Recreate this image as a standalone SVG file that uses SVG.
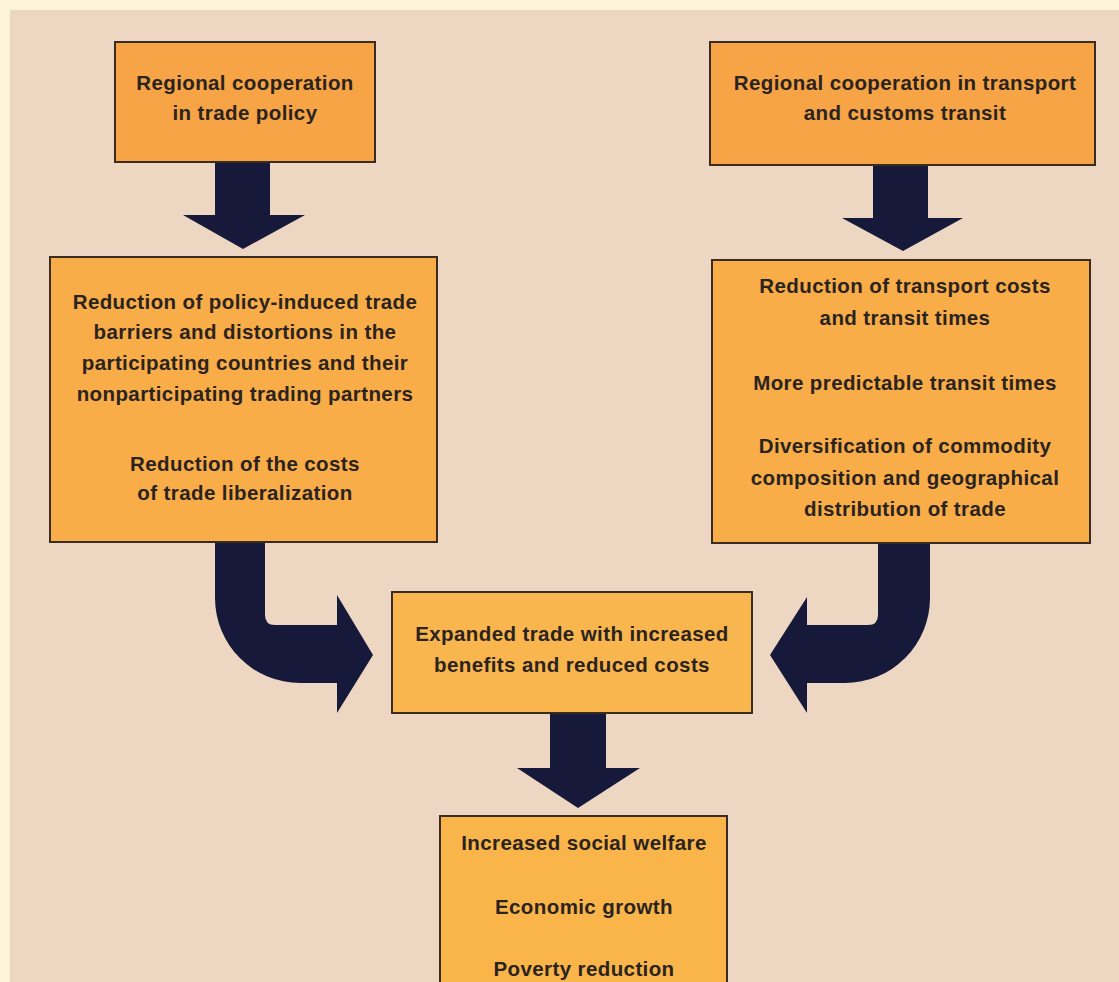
<svg xmlns="http://www.w3.org/2000/svg" width="1119" height="982" viewBox="0 0 1119 982">
<style>
.box{stroke:#3b2c22;stroke-width:2}
.t{font-family:"Liberation Sans",Arial,sans-serif;font-weight:bold;font-size:20.5px;letter-spacing:0.4px;fill:#2a2320;text-anchor:middle}
.arr{fill:#16193a}
</style>
<rect x="0" y="0" width="1119" height="982" fill="#fbf3da"/>
<rect x="10" y="10" width="1109" height="972" fill="#eed7c2"/>
<g id="connectors">
<path class="arr" d="M215,163 L270,163 L270,215 L305,215 L243,249 L183,215 L215,215 Z"/>
<path class="arr" d="M873,166 L928,166 L928,218 L963,218 L903,251 L842,218 L873,218 Z"/>
<path class="arr" d="M215,542 L265,542 L265,615 Q265,625 275,625 L337,625 L337,595 L373,655 L337,713 L337,683 L300,683 A85,85 0 0 1 215,598 Z"/>
<path class="arr" d="M930,542 L878,542 L878,615 Q878,625 868,625 L807,625 L807,597 L770,655 L807,713 L807,683 L845,683 A85,85 0 0 0 930,598 Z"/>
<path class="arr" d="M550,713 L606,713 L606,768 L640,768 L578,808 L517,768 L550,768 Z"/>
</g>
<g id="n1">
<rect class="box" x="115" y="42" width="260" height="120" fill="#f6a445"/>
<text class="t" x="245" y="90">Regional cooperation</text>
<text class="t" x="245" y="120">in trade policy</text>
</g>
<g id="n2">
<rect class="box" x="710" y="42" width="385" height="123" fill="#f6a445"/>
<text class="t" x="905" y="90">Regional cooperation in transport</text>
<text class="t" x="905" y="120">and customs transit</text>
</g>
<g id="n3">
<rect class="box" x="50" y="257" width="387" height="285" fill="#f8ad49"/>
<text class="t" x="245" y="309">Reduction of policy-induced trade</text>
<text class="t" x="245" y="339">barriers and distortions in the</text>
<text class="t" x="245" y="370">participating countries and their</text>
<text class="t" x="245" y="401">nonparticipating trading partners</text>
<text class="t" x="245" y="471">Reduction of the costs</text>
<text class="t" x="245" y="500">of trade liberalization</text>
</g>
<g id="n4">
<rect class="box" x="712" y="260" width="378" height="283" fill="#f8ad49"/>
<text class="t" x="905" y="293">Reduction of transport costs</text>
<text class="t" x="905" y="325">and transit times</text>
<text class="t" x="905" y="390">More predictable transit times</text>
<text class="t" x="905" y="453">Diversification of commodity</text>
<text class="t" x="905" y="485">composition and geographical</text>
<text class="t" x="905" y="516">distribution of trade</text>
</g>
<g id="n5">
<rect class="box" x="392" y="592" width="360" height="121" fill="#fab64e"/>
<text class="t" x="572" y="641">Expanded trade with increased</text>
<text class="t" x="572" y="672">benefits and reduced costs</text>
</g>
<g id="n6">
<rect class="box" x="440" y="816" width="287" height="180" fill="#f9b54a"/>
<text class="t" x="584" y="850">Increased social welfare</text>
<text class="t" x="584" y="914">Economic growth</text>
<text class="t" x="584" y="976">Poverty reduction</text>
</g>
</svg>
